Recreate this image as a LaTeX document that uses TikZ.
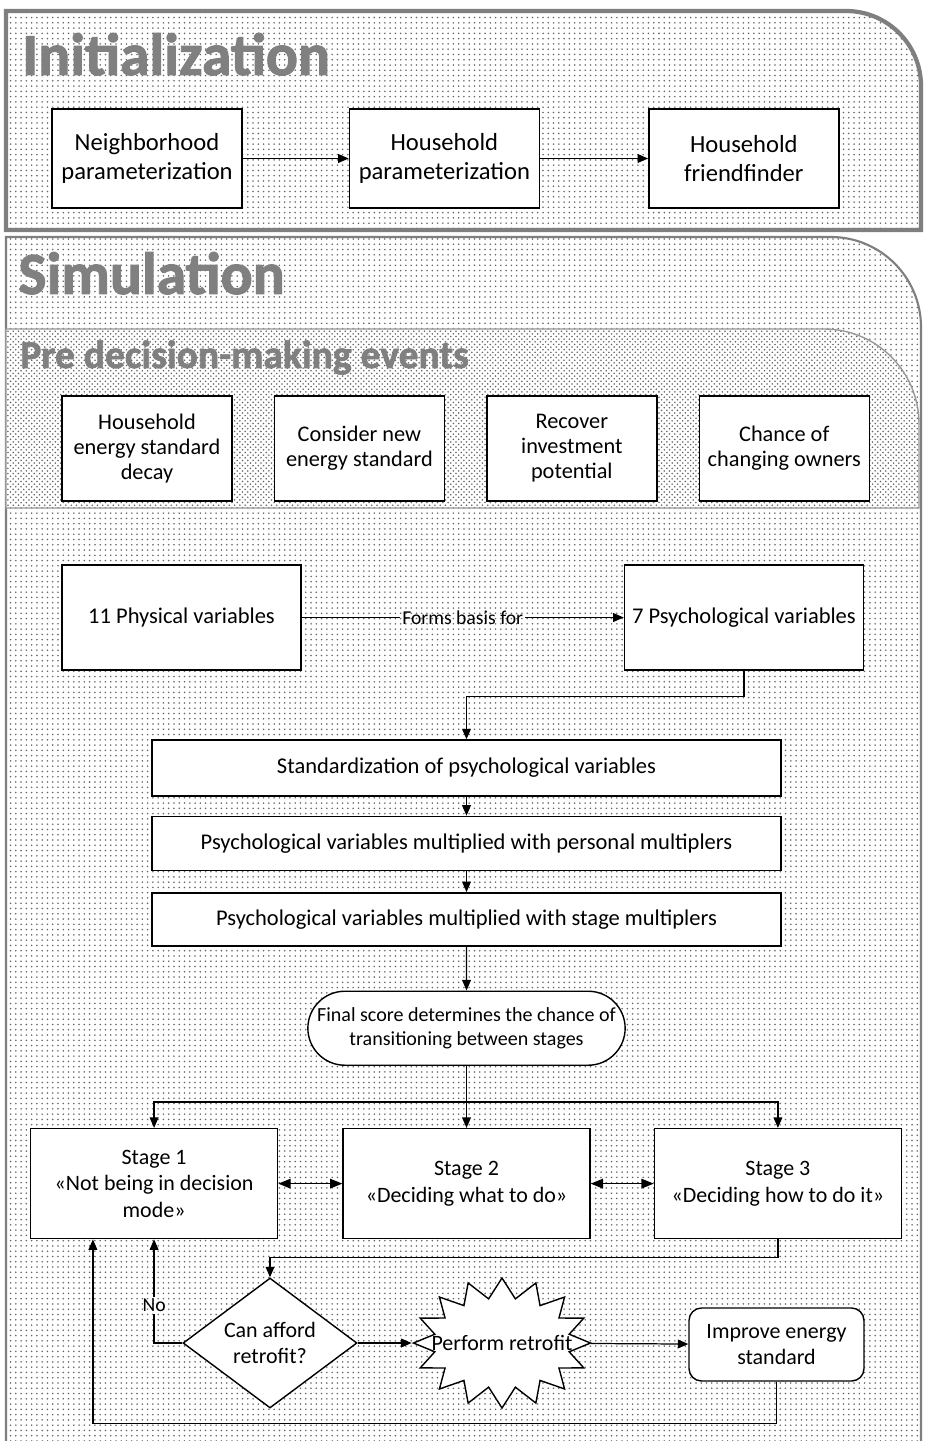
\documentclass[tikz,border=0pt]{standalone}
\usepackage{fontspec}
\setmainfont{Carlito}
\newfontfamily\titlefont[FakeBold=1.6]{Carlito Bold}
\usetikzlibrary{shapes,arrows.meta,positioning,patterns}
\definecolor{panelgray}{HTML}{7F7F7F}
\definecolor{titlegray}{HTML}{808080}

\begin{document}
\begin{tikzpicture}[
    box/.style={rectangle, draw, fill=white, line width=0.8pt, align=center, inner sep=2pt},
    initbox/.style={box, minimum width=3.8cm, minimum height=1.98cm, font=\fontsize{14}{16.5}\selectfont},
    eventbox/.style={box, minimum width=3.4cm, minimum height=2.1cm, font=\fontsize{12.7}{14.2}\selectfont},
    varbox/.style={box, minimum width=4.78cm, minimum height=2.1cm, font=\fontsize{12.8}{15}\selectfont},
    widebox/.style={box, minimum width=12.58cm, minimum height=1.1cm, font=\fontsize{12.8}{15}\selectfont},
    stagebox/.style={box, minimum width=4.94cm, minimum height=2.2cm, font=\fontsize{12.5}{15}\selectfont},
    paneltitle/.style={anchor=base west, inner sep=0pt, text=titlegray, font=\titlefont\fontsize{34}{37}\selectfont},
    lbl/.style={inner sep=1pt, font=\fontsize{11.2}{13}\selectfont},
    conn/.style={line width=0.7pt},
    arrow/.style={conn, -{Triangle[length=6pt,width=5pt]}},
    doublearrow/.style={conn, {Triangle[length=7pt,width=5.5pt]}-{Triangle[length=7pt,width=5.5pt]}},
    panel/.style={preaction={fill=white}, pattern=dots, pattern color=black!60, draw=panelgray}
  ]
    \useasboundingbox (0,0) rectangle (18.48,-28.82);
    \clip (0,0) rectangle (18.48,-28.82);

    % panels
    \draw[panel, line width=2.4pt] (0.12,-4.6) -- (0.12,-0.22) -- (16.92,-0.22)
      .. controls (17.75,-0.22) and (18.42,-0.89) .. (18.42,-1.72) -- (18.42,-4.6) -- cycle;
    \draw[panel, line width=1.2pt] (0.12,-29.2) -- (0.12,-4.74) -- (16.62,-4.74)
      .. controls (17.61,-4.74) and (18.42,-5.55) .. (18.42,-6.54) -- (18.42,-29.2) -- cycle;
    \draw[preaction={fill=white}, pattern=crosshatch dots, pattern color=black!60, draw=panelgray!80, line width=0.8pt]
      (0.12,-10.16) -- (0.12,-6.58) -- (16.48,-6.58)
      .. controls (17.53,-6.58) and (18.38,-7.43) .. (18.38,-8.48) -- (18.38,-10.16) -- cycle;

    \node[paneltitle] (inittitle) at (0.44,-1.5) {Initialization};
    \node[paneltitle] (simtitle) at (0.36,-5.88) {Simulation};
    \node[paneltitle, font=\titlefont\fontsize{22.5}{26}\selectfont] (pretitle) at (0.4,-7.36) {Pre decision-making events};

    % initialization
    \node[initbox] (nbh) at (2.94,-3.17) {Neighborhood\\parameterization};
    \node[initbox, right=2.12cm of nbh] (hpar) {Household\\parameterization};
    \node[initbox, right=2.16cm of hpar] (friends) {Household\\friendfinder};

    \draw[arrow] (nbh) -- (hpar);
    \draw[arrow] (hpar) -- (friends);

    % pre decision-making events
    \node[eventbox] (decay) at (2.94,-8.97) {Household\\energy standard\\decay};
    \node[eventbox, right=0.82cm of decay] (newstd) {Consider new\\energy standard};
    \node[eventbox, right=0.82cm of newstd] (recover) {Recover\\investment\\potential};
    \node[eventbox, right=0.82cm of recover] (owners) {Chance of\\changing owners};

    % decision-making
    \node[varbox] (phys) at (3.63,-12.35) {11 Physical variables};
    \node[varbox, right=6.44cm of phys] (psych) {7 Psychological variables};
    \node[widebox, minimum height=1.12cm] (std) at (9.33,-15.36) {Standardization of psychological variables};
    \node[widebox, minimum height=1.08cm, below=0.38cm of std] (pers) {Psychological variables multiplied with personal multiplers};
    \node[widebox, minimum height=1.06cm, below=0.42cm of pers] (stgmul) {Psychological variables multiplied with stage multiplers};
    \node[rounded rectangle, draw, fill=white, line width=0.8pt, align=center, minimum width=6.58cm, minimum height=1.48cm,
      font=\fontsize{11.4}{13.8}\selectfont, below=0.88cm of stgmul] (final) {Final score determines the chance of\\transitioning between stages};

    \node[stagebox, below=1.24cm of final] (s2) {Stage 2\\«Deciding what to do»};
    \node[stagebox, left=1.28cm of s2] (s1) {Stage 1\\«Not being in decision\\mode»};
    \node[stagebox, right=1.26cm of s2] (s3) {Stage 3\\«Deciding how to do it»};

    \node[diamond, draw, fill=white, line width=0.8pt, align=center, aspect=1.34, inner sep=0pt,
      minimum width=3.48cm, minimum height=2.6cm, font=\fontsize{12.5}{15}\selectfont] (afford) at (5.4,-26.86) {Can afford\\retrofit?};
    \node[starburst, draw, fill=white, line width=0.8pt, starburst points=16, starburst point height=0.4cm, random starburst=0,
      inner sep=0pt, minimum width=3.54cm, minimum height=2.6cm,
      label={[font=\fontsize{12.5}{15}\selectfont]center:Perform retrofit}] (retrofit) at (10.04,-26.86) {};
    \node[box, rounded corners=0.25cm, minimum width=3.5cm, minimum height=1.46cm, font=\fontsize{12.5}{15}\selectfont]
      (improve) at (15.53,-26.89) {Improve energy\\standard};

    \path (phys) -- node[lbl] (basis) {Forms basis for} (psych);
    \draw[conn] (phys) -- (basis);
    \draw[arrow] (basis) -- (psych);
    \draw[arrow] (psych.south) -- ++(0,-0.52) -| (std.north);
    \draw[arrow] (std) -- (pers);
    \draw[arrow] (pers) -- (stgmul);
    \draw[arrow] (stgmul) -- (final);
    \draw[conn] (final.south) -- ++(0,-0.72) coordinate (split);
    \draw[arrow] (split) -| (s1.north);
    \draw[arrow] (split) -| (s3.north);
    \draw[arrow] (split) -- (s2.north);
    \draw[doublearrow] (s1) -- (s2);
    \draw[doublearrow] (s2) -- (s3);

    \draw[arrow] (s3.south) -- ++(0,-0.36) -| (afford.north);
    \path (afford.west -| s1.south) -- node[lbl, pos=0.36] (nolbl) {No} (s1.south);
    \draw[conn] (afford.west) -| (nolbl.south);
    \draw[arrow] (nolbl.north) -- (s1.south);
    \draw[arrow] (afford) -- (retrofit);
    \draw[arrow] (retrofit) -- (improve);
    \draw[arrow] (improve.south) -- ++(0,-0.84) -| ([xshift=1.26cm]s1.south west);
  \end{tikzpicture}
\end{document}
